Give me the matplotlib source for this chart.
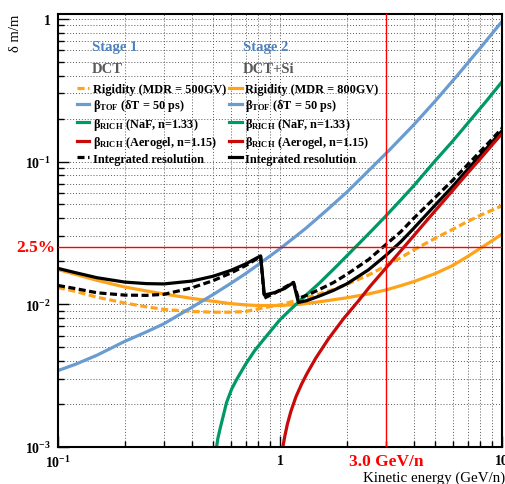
import matplotlib
matplotlib.use('Agg')
import matplotlib.pyplot as plt
from matplotlib.ticker import LogLocator, FuncFormatter, NullFormatter
import numpy as np

plt.rcParams['font.family'] = 'Liberation Serif'
plt.rcParams['font.weight'] = 'bold'
plt.rcParams['mathtext.fontset'] = 'custom'
plt.rcParams['mathtext.rm'] = 'Liberation Serif:bold'
plt.rcParams['mathtext.it'] = 'Liberation Serif:bold'
plt.rcParams['mathtext.bf'] = 'Liberation Serif:bold'

# values (kinetic energy in GeV/n, delta m/m)
x_rig1 = [0.1, 0.12, 0.15, 0.2, 0.25, 0.3, 0.4, 0.5, 0.6, 0.7, 0.8, 1.0, 1.23, 1.5, 1.74, 2.0, 2.5, 3.0, 3.5, 4.0, 5.0, 6.0, 7.0, 8.0, 9.0, 10.0]
y_rig1 = [0.0131, 0.0123, 0.0112, 0.0102, 0.0096, 0.0092, 0.0089, 0.0088, 0.0088, 0.0089, 0.0093, 0.0099, 0.0108, 0.0118, 0.0127, 0.0138, 0.0160, 0.0186, 0.0212, 0.0240, 0.0290, 0.0335, 0.0380, 0.0420, 0.0455, 0.0490]

x_rig2 = [0.1, 0.12, 0.15, 0.2, 0.25, 0.3, 0.4, 0.5, 0.6, 0.7, 0.8, 1.0, 1.23, 1.5, 2.0, 2.5, 3.0, 3.5, 4.0, 5.0, 6.0, 7.0, 8.0, 9.0, 10.0]
y_rig2 = [0.0175, 0.0162, 0.0147, 0.0132, 0.0124, 0.0118, 0.0110, 0.0105, 0.0101, 0.0099, 0.0098, 0.0098, 0.0100, 0.0104, 0.0111, 0.0118, 0.0126, 0.0135, 0.0144, 0.0164, 0.0187, 0.0216, 0.0247, 0.0278, 0.0310]

x_tof = [0.1, 0.12, 0.15, 0.2, 0.25, 0.3, 0.4, 0.5, 0.6, 0.7, 0.8, 1.0, 1.3, 1.6, 2.0, 2.54, 3.12, 3.98, 5.0, 6.3, 8.0, 10.0]
y_tof = [0.00343, 0.0038, 0.0044, 0.0055, 0.0064, 0.0073, 0.0095, 0.0117, 0.0140, 0.0164, 0.0190, 0.0245, 0.0338, 0.0447, 0.061, 0.088, 0.121, 0.179, 0.265, 0.402, 0.627, 0.958]

x_naf = [0.518, 0.525, 0.537, 0.555, 0.575, 0.606, 0.64, 0.7, 0.77, 0.87, 1.0, 1.1, 1.23, 1.5, 1.8, 2.18, 2.6, 3.0, 3.5, 4.0, 5.05, 6.0, 7.0, 8.5, 10.0]
y_naf = [0.001, 0.00115, 0.00134, 0.00165, 0.00206, 0.00255, 0.0030, 0.0038, 0.00475, 0.0060, 0.0078, 0.0090, 0.0106, 0.0140, 0.0185, 0.025, 0.033, 0.0416, 0.0538, 0.0675, 0.103, 0.139, 0.185, 0.265, 0.362]

x_aero = [1.03, 1.05, 1.08, 1.12, 1.18, 1.25, 1.32, 1.45, 1.65, 1.93, 2.25, 2.54, 3.06, 3.63, 4.3, 5.0, 6.0, 7.0, 8.0, 9.0, 10.0]
y_aero = [0.001, 0.00118, 0.00145, 0.00178, 0.00225, 0.00275, 0.00325, 0.0042, 0.0057, 0.0079, 0.0105, 0.0133, 0.0186, 0.0253, 0.0344, 0.0452, 0.0627, 0.083, 0.105, 0.130, 0.157]

x_int1 = [0.1, 0.12, 0.15, 0.2, 0.25, 0.3, 0.4, 0.5, 0.6, 0.7, 0.818, 0.85, 0.95, 1.05, 1.15, 1.21, 1.32, 1.5, 1.74, 2.0, 2.5, 3.0, 3.5, 4.0, 5.0, 6.0, 7.0, 8.0, 9.0, 10.0]
y_int1 = [0.01354, 0.01287, 0.01203, 0.01159, 0.01154, 0.01174, 0.01302, 0.01464, 0.01654, 0.01866, 0.0216, 0.01105, 0.0120, 0.01314, 0.01423, 0.01099, 0.01157, 0.01266, 0.01418, 0.0162, 0.0205, 0.0262, 0.0322, 0.0400, 0.0560, 0.0740, 0.0950, 0.118, 0.143, 0.171]

x_int2 = [0.1, 0.12, 0.15, 0.2, 0.25, 0.3, 0.4, 0.5, 0.6, 0.7, 0.818, 0.85, 0.95, 1.05, 1.15, 1.21, 1.32, 1.5, 1.74, 2.0, 2.5, 3.0, 3.5, 4.0, 5.0, 6.0, 7.0, 8.0, 9.0, 10.0]
y_int2 = [0.01783, 0.01664, 0.01534, 0.0143, 0.01395, 0.01388, 0.01453, 0.01572, 0.01726, 0.01916, 0.02182, 0.0116, 0.0121, 0.0129, 0.0142, 0.0103, 0.0106, 0.0114, 0.0125, 0.0139, 0.0174, 0.0220, 0.0274, 0.0340, 0.0495, 0.067, 0.088, 0.111, 0.136, 0.164]

limit_res = 0.025
limit_ek = 3.0

c_orange = '#ffa31a'
c_blue = '#6a9bd1'
c_green = '#009966'
c_red = '#c80a0a'
dash = (0, (2.2, 1.1))
lw = 2.3

fig = plt.figure(figsize=(5.06, 4.85), dpi=100)
ax = fig.add_axes([58/506, 1-448/485, 444/506, 433/485])
ax.set_xscale('log')
ax.set_yscale('log')

l_rig1, = ax.plot(x_rig1, y_rig1, color=c_orange, lw=lw, ls=dash)
l_rig2, = ax.plot(x_rig2, y_rig2, color=c_orange, lw=lw)
l_tof, = ax.plot(x_tof, y_tof, color=c_blue, lw=lw)
l_naf, = ax.plot(x_naf, y_naf, color=c_green, lw=lw)
l_int1, = ax.plot(x_int1, y_int1, color='black', lw=lw, ls=dash)
l_int2, = ax.plot(x_int2, y_int2, color='black', lw=lw)
l_aero, = ax.plot(x_aero, y_aero, color=c_red, lw=lw)

ax.axhline(limit_res, color='red', lw=1.0, zorder=10)
ax.axvline(limit_ek, color='red', lw=1.0, zorder=10)

ax.set_xlim(0.1, 10)
ax.set_ylim(1e-3, 1.08)

def log_fmt(v, pos):
    e = int(round(np.log10(v)))
    if e == 0:
        return '1'
    if e == 1:
        return '10'
    return r'$10^{%d}$' % e

for axis in (ax.xaxis, ax.yaxis):
    axis.set_major_locator(LogLocator(base=10))
    axis.set_minor_locator(LogLocator(base=10, subs=np.arange(2, 10)))
    axis.set_major_formatter(FuncFormatter(log_fmt))
    axis.set_minor_formatter(NullFormatter())

ax.tick_params(which='both', direction='in', labelsize=10, width=1)
ax.tick_params(which='major', length=8, pad=5)
ax.tick_params(which='minor', length=4.5)
ax.grid(True, which='both', color='0.35', ls=(0, (1, 2)), lw=0.7)
for s in ax.spines.values():
    s.set_linewidth(1.5)

ax.set_xlabel('Kinetic energy (GeV/n)', fontsize=10.8, loc='right')
ax.xaxis.set_label_coords(1.008, -0.054)
ax.set_ylabel('δ m/m', fontsize=10.5, loc='top')
ax.yaxis.set_label_coords(-0.082, 1.0)

ax.annotate('2.5%', xy=(-0.005, limit_res), xycoords=('axes fraction', 'data'),
            ha='right', va='center', color='red', fontsize=12.5)
ax.annotate('3.0 GeV/n', xy=(limit_ek, -0.032), xycoords=('data', 'axes fraction'),
            ha='center', va='center', color='red', fontsize=12.5)

# column headers
for xh, stage, det in [(0.0766, 'Stage 1', 'DCT'), (0.416, 'Stage 2', 'DCT+Si')]:
    ax.text(xh, 0.925, stage, transform=ax.transAxes, color='#4f81bd',
            fontsize=10.5, va='center', ha='left')
    ax.text(xh, 0.875, det, transform=ax.transAxes, color='#595959',
            fontsize=10.5, va='center', ha='left')

handles = [l_rig1, l_tof, l_naf, l_aero, l_int1,
           l_rig2, l_tof, l_naf, l_aero, l_int2]
labels = ['Rigidity (MDR = 500GV)', r'$β_{TOF}$ (δT = 50 ps)',
          r'$β_{RICH}$ (NaF, n=1.33)', r'$β_{RICH}$ (Aerogel, n=1.15)', 'Integrated resolution',
          'Rigidity (MDR = 800GV)', r'$β_{TOF}$ (δT = 50 ps)',
          r'$β_{RICH}$ (NaF, n=1.33)', r'$β_{RICH}$ (Aerogel, n=1.15)', 'Integrated resolution']
leg = ax.legend(handles, labels, ncol=2, loc='upper left', bbox_to_anchor=(0.042, 0.841),
                frameon=False, prop=dict(family='Liberation Serif', weight='bold', size=8.8),
                handlelength=1.0, handletextpad=0.3, columnspacing=0.3,
                labelspacing=0.2, borderpad=0, borderaxespad=0)

fig.savefig('out.png', dpi=100)
